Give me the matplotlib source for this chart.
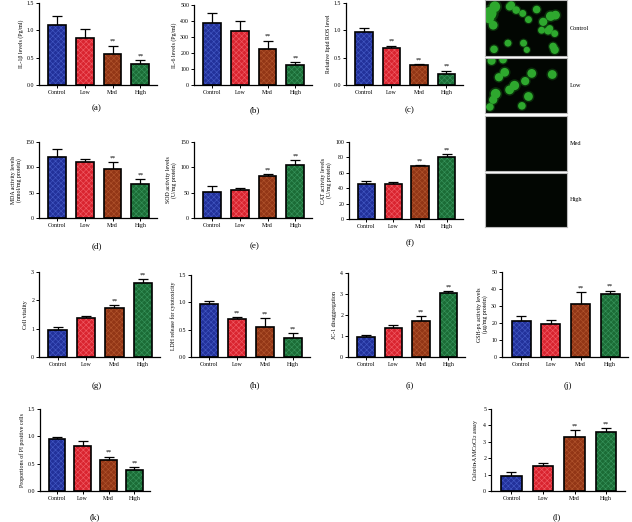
import numpy as np
import matplotlib
matplotlib.use("Agg")
import matplotlib.pyplot as plt

plt.rcParams['font.family'] = ['Liberation Serif', 'DejaVu Serif']
plt.rcParams['hatch.linewidth'] = 0.45

groups = ['Control', 'Low', 'Med', 'High']
bar_colors = ['#22319a', '#d9242f', '#923616', '#1b6c36']
hatch_colors = ['#4257c2', '#ef5a63', '#b0532c', '#36925a']

# values: mean, upper error, stars
il1b = [1.10, 0.86, 0.57, 0.38]
il1b_err = [0.17, 0.17, 0.15, 0.08]
il6 = [388, 338, 228, 123]
il6_err = [65, 65, 50, 22]
ros = [0.97, 0.67, 0.37, 0.21]
ros_err = [0.08, 0.05, 0.015, 0.05]
mda = [120, 110, 96, 68]
mda_err = [17, 7, 15, 9]
sod = [52, 56, 82, 104]
sod_err = [11, 4, 5, 10]
cat = [46, 45, 69, 81]
cat_err = [4, 3, 1, 3]
vitality = [0.97, 1.37, 1.73, 2.62]
vitality_err = [0.10, 0.07, 0.10, 0.12]
ldh = [0.97, 0.70, 0.55, 0.34]
ldh_err = [0.05, 0.03, 0.16, 0.09]
jc1 = [0.97, 1.38, 1.73, 3.05]
jc1_err = [0.08, 0.15, 0.20, 0.08]
gsh = [21, 19.5, 31, 37]
gsh_err = [3, 2.5, 7, 2]
pi_cells = [0.96, 0.83, 0.56, 0.39]
pi_err = [0.02, 0.09, 0.07, 0.04]
calcein = [0.90, 1.52, 3.32, 3.62]
calcein_err = [0.25, 0.20, 0.38, 0.22]

stars_mh = ['', '', '**', '**']
stars_lmh = ['', '**', '**', '**']

# green spots in the fluorescence images (fraction of panel, y from top)
control_x = [0.06, 0.12, 0.10, 0.32, 0.38, 0.46, 0.53, 0.63, 0.71, 0.80, 0.86, 0.69, 0.77, 0.85, 0.79, 0.28, 0.47, 0.11, 0.51, 0.85, 0.83, 0.30, 0.05]
control_y = [0.24, 0.12, 0.45, 0.09, 0.18, 0.24, 0.35, 0.17, 0.39, 0.29, 0.27, 0.54, 0.55, 0.60, 0.51, 0.77, 0.77, 0.88, 0.89, 0.89, 0.83, 0.12, 0.33]
control_s = [90, 60, 40, 30, 30, 25, 25, 30, 35, 45, 40, 25, 30, 25, 25, 25, 25, 30, 20, 35, 30, 30, 50]
low_x = [0.08, 0.22, 0.24, 0.17, 0.57, 0.49, 0.82, 0.36, 0.30, 0.13, 0.10, 0.53, 0.45, 0.06]
low_y = [0.05, 0.03, 0.26, 0.35, 0.28, 0.42, 0.30, 0.50, 0.58, 0.65, 0.76, 0.70, 0.87, 0.89]
low_s = [35, 30, 40, 35, 40, 35, 40, 45, 40, 50, 35, 40, 30, 30]
image_labels = ['Control', 'Low', 'Med', 'High']

W, H = 632, 522
fig = plt.figure(figsize=(6.32, 5.22), dpi=100)


def px_axes(x0, x1, ytop, ybot):
    return fig.add_axes([x0 / W, (H - ybot) / H, (x1 - x0) / W, (ybot - ytop) / H])


def bar_panel(box, vals, errs, stars, ymax, step, ylabel, letter, letter_xy, fmt='%.1f'):
    ax = px_axes(*box)
    x = np.arange(len(vals))
    ax.bar(x, vals, 0.64, color=bar_colors, edgecolor=hatch_colors, hatch='xxxxxx', linewidth=0, zorder=2)
    ax.bar(x, vals, 0.64, fill=False, edgecolor='black', linewidth=1.2, zorder=3)
    ax.errorbar(x, vals, yerr=[np.zeros(len(vals)), errs], fmt='none', ecolor='black',
                elinewidth=0.9, capsize=3.5, capthick=0.9, zorder=1)
    for xi, v, e, s in zip(x, vals, errs, stars):
        if s:
            ax.text(xi, v + e + ymax * 0.02, s, ha='center', va='bottom', fontsize=4.5)
    ax.set_xlim(-0.65, 3.6)
    ax.set_ylim(0, ymax)
    ticks = np.arange(0, ymax + step / 2, step)
    ax.set_yticks(ticks)
    ax.set_yticklabels([fmt % t for t in ticks])
    ax.set_xticks(x)
    ax.set_xticklabels(groups)
    ax.tick_params(labelsize=4.2, length=2, width=0.7, pad=1.5)
    ax.spines['top'].set_visible(False)
    ax.spines['right'].set_visible(False)
    ax.spines['left'].set_linewidth(0.9)
    ax.spines['bottom'].set_linewidth(0.9)
    ax.set_ylabel(ylabel, fontsize=4.2, labelpad=2, linespacing=1.1)
    fig.text(letter_xy[0] / W, 1 - letter_xy[1] / H, letter, ha='center', va='center', fontsize=6.5)
    return ax


bar_panel((39, 157, 3, 85), il1b, il1b_err, stars_mh, 1.5, 0.5, 'IL-1β levels (Pg/ml)', '(a)', (97, 108))
bar_panel((194, 312, 5, 85), il6, il6_err, stars_mh, 500, 100, 'IL-6 levels (Pg/ml)', '(b)', (255, 110), '%d')
bar_panel((346, 463, 3, 85), ros, ros_err, stars_lmh, 1.5, 0.5, 'Relative lipid ROS level', '(c)', (410, 110))
bar_panel((39, 157, 142, 218), mda, mda_err, stars_mh, 150, 50, 'MDA activity levels\n(nmol/mg protein)', '(d)', (97, 246), '%d')
bar_panel((194, 312, 142, 218), sod, sod_err, stars_mh, 150, 50, 'SOD activity levels\n(U/mg protein)', '(e)', (255, 246), '%d')
bar_panel((349, 463, 142, 219), cat, cat_err, stars_mh, 100, 20, 'CAT activity levels\n(U/mg protein)', '(f)', (410, 243), '%d')
bar_panel((39, 160, 272, 357), vitality, vitality_err, stars_mh, 3, 1, 'Cell vitality', '(g)', (97, 386), '%d')
bar_panel((191, 310, 275, 357), ldh, ldh_err, stars_lmh, 1.5, 0.5, 'LDH release for cytotoxicity', '(h)', (255, 385))
bar_panel((348, 465, 273, 357), jc1, jc1_err, stars_mh, 4, 1, 'JC-1 disaggregation', '(i)', (410, 385), '%d')
bar_panel((502, 628, 272, 357), gsh, gsh_err, stars_mh, 50, 10, 'GSH-px activity levels\n(μg/mg protein)', '(j)', (568, 386), '%d')
bar_panel((40, 150, 409, 491), pi_cells, pi_err, stars_mh, 1.5, 0.5, 'Proportions of PI positive cells', '(k)', (95, 517))
bar_panel((491, 625, 409, 491), calcein, calcein_err, stars_mh, 5, 1, 'Calcein-AM/CoCl$_2$ assay', '(l)', (557, 517), '%d')

# fluorescence images
img_boxes = [(485, 567, 0, 56), (485, 567, 58, 113), (485, 567, 116, 171), (485, 567, 173, 227)]
spots = [(control_x, control_y, control_s), (low_x, low_y, low_s), ([], [], []), ([], [], [])]
for box, (sx, sy, ss), lab in zip(img_boxes, spots, image_labels):
    ax = px_axes(*box)
    ax.set_facecolor('#020602')
    ax.set_xlim(0, 1)
    ax.set_ylim(1, 0)
    if sx:
        ax.scatter(sx, sy, s=np.array(ss) * 1.8, color='#155f15', alpha=0.45, linewidths=0)
        ax.scatter(sx, sy, s=ss, color='#2ea82e', linewidths=0)
    ax.set_xticks([])
    ax.set_yticks([])
    for sp in ax.spines.values():
        sp.set_color('#bbbbbb')
        sp.set_linewidth(0.8)
    fig.text((box[1] + 3) / W, 1 - ((box[2] + box[3]) / 2) / H, lab, ha='left', va='center', fontsize=4.5)

fig.savefig('out.png', dpi=100)
